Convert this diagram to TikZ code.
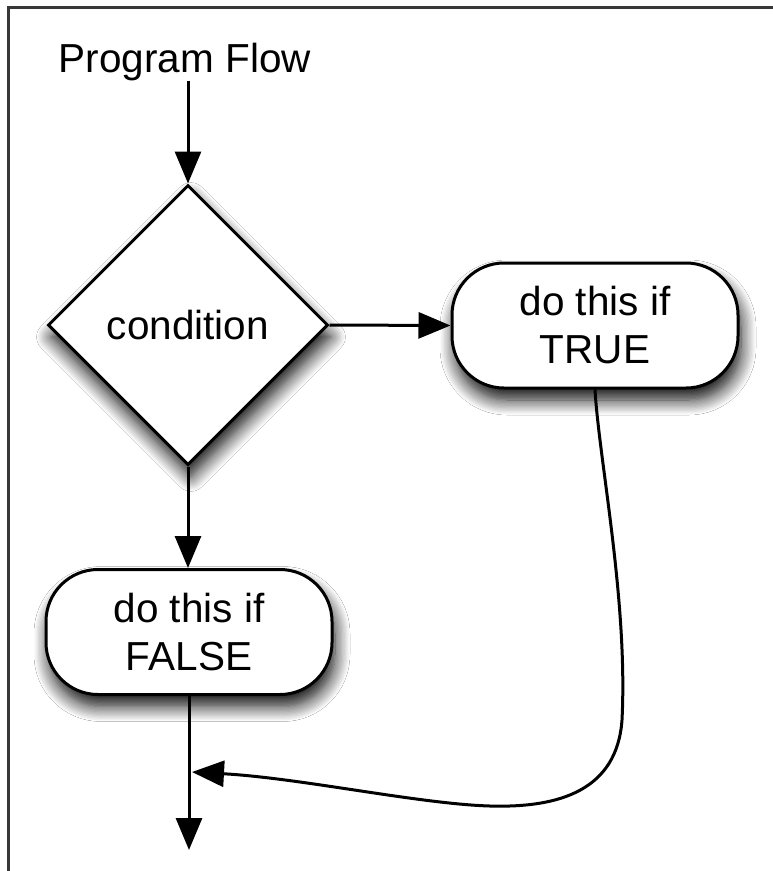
\documentclass[tikz,border=0pt]{standalone}
\usepackage{fontspec}
\setmainfont{Liberation Sans}
\usetikzlibrary{arrows.meta,shapes.geometric,shadows.blur}
\tikzset{
  lbl/.style={font=\fontsize{40.5}{48}\selectfont, inner sep=0pt, align=center},
  shade/.style={blur shadow={shadow xshift=3pt, shadow yshift=-12pt, shadow blur radius=15pt, shadow blur steps=12, shadow opacity=95}},
  decision/.style={lbl, shape=diamond, draw=black, line width=3pt, fill=white, minimum width=280pt, minimum height=280pt, aspect=1, shade},
  action/.style={lbl, shape=rectangle, draw=black, line width=3pt, fill=white, rounded corners=52pt, minimum width=286pt, minimum height=125pt, shade},
  conn/.style={line width=3pt, -{Triangle[length=32pt,width=26pt]}},
  framel/.style={draw=black!78, line width=2.6pt}
}
\begin{document}
\begin{tikzpicture}[x=1pt,y=-1pt]
\useasboundingbox (0,0) rectangle (773,871);
\clip (0,0) rectangle (773,871);
\fill[white] (0,0) rectangle (773,871);
\draw[framel] (8.7,900) -- (8.7,7.5) -- (800,7.5);
\node[lbl, anchor=base] (title) at (185,72) {Program Flow};
\node[decision] (cond) at (188,325) {condition};
\node[action] (true) at (595,325.5) {do this if\\TRUE};
\node[action] (false) at (189,632) {do this if\\FALSE};
\coordinate (join) at (192,772);
\coordinate (end) at (189,850);
\draw[conn] (title.south -| cond.north) -- (cond.north);
\draw[conn] (cond.east) -- (true.west);
\draw[conn] (cond.south) -- (cond.south |- false.north);
\draw[conn] (false.south) -- (end);
\draw[conn] (true.south) .. controls (599,460) and (628,600) .. (622,720)
  .. controls (617,790) and (560,808) .. (490,806)
  .. controls (420,804) and (300,778) .. (join);
\end{tikzpicture}
\end{document}
